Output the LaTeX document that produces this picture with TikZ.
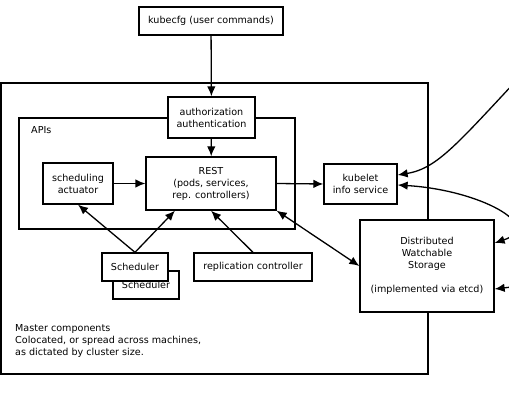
\documentclass[tikz,border=0pt]{standalone}
\usepackage{fontspec}
\setmainfont{DejaVu Sans}
\usetikzlibrary{arrows.meta}

\begin{document}
\begin{tikzpicture}[x=1pt, y=-1pt,
    box/.style={draw, line width=1.3pt, fill=white, inner sep=0pt, align=center,
        font=\fontsize{9.6}{12}\selectfont},
    arr/.style={line width=1.3pt, -{Latex[length=10pt,width=8.5pt]}},
    arrs/.style={line width=1.3pt, {Latex[length=10pt,width=8.5pt]}-{Latex[length=10pt,width=8.5pt]}}]
    % Rahmen (Bildgroesse)
    \clip (0,0) rectangle (509,412);
    \fill[white] (0,0) rectangle (509,412);

    % Master und APIs
    \draw[line width=1.3pt] (1,83) rectangle (428,374);
    \draw[line width=1.3pt] (19,118) rectangle (295,229);
    \node[anchor=west, inner sep=0pt, font=\fontsize{9.6}{12}\selectfont] (apilabel) at (31,130) {APIs};
    \node[anchor=west, inner sep=0pt, align=left, font=\fontsize{9.6}{12}\selectfont] (mastertext) at (15,341)
        {Master components\\Colocated, or spread across machines,\\as dictated by cluster size.};

    % Knoten
    \node[box, minimum width=144, minimum height=28] (kubecfg) at (211,21) {kubecfg (user commands)};
    \node[box, minimum width=87, minimum height=41] (auth) at (211.5,117.5) {authorization\\authentication};
    \node[box, minimum width=130, minimum height=53] (rest) at (211,183.5) {REST\\(pods, services,\\rep. controllers)};
    \node[box, minimum width=70, minimum height=41] (actuator) at (78,183.5) {scheduling\\actuator};
    \node[box, minimum width=73, minimum height=40] (kubelet) at (360.5,184) {kubelet\\info service};
    \node[box, minimum width=134, minimum height=92] (storage) at (427,266)
        {Distributed\\Watchable\\Storage\\[12pt](implemented via etcd)};
    \node[box, minimum width=66, minimum height=28] (schedback) at (146,285) {Scheduler};
    \node[box, minimum width=66, minimum height=28] (sched) at (135,267) {Scheduler};
    \node[box, minimum width=118, minimum height=28] (repctrl) at (253,267) {replication controller};

    % Punkte ausserhalb des Bildes
    \coordinate (outtop) at (545,50);
    \coordinate (outbottom) at (520,286);

    % Pfeile
    \draw[arr] (kubecfg) -- (auth);
    \draw[arr] (auth) -- (rest);
    \draw[arr] (actuator) -- (rest);
    \draw[arr] (rest.east) -- (kubelet.west);
    \draw[arr] (sched.north) -- (actuator.south);
    \draw[arr] (sched.north) -- (rest.217);
    \draw[arr] (repctrl.north) -- (rest.south);
    \draw[arrs] (rest.south east) -- (storage.west);

    % Kurven nach rechts
    \draw[arr] (outtop) .. controls (460,140) and (440,168) .. ([yshift=9pt]kubelet.east);
    \draw[arrs] ([yshift=-1pt]kubelet.east) .. controls (480,190) and (545,226) .. ([yshift=23pt]storage.east);
    \draw[arr] (outbottom) -- ([yshift=-23pt]storage.east);
\end{tikzpicture}
\end{document}
